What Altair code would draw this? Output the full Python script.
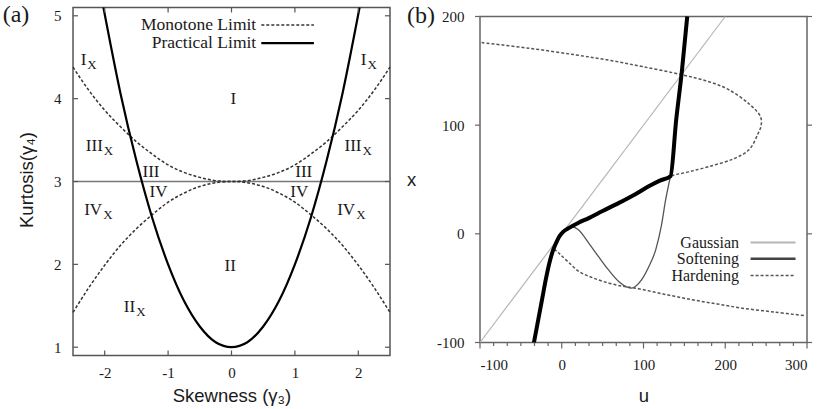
import altair as alt
import pandas as pd

# ---------------- (a) kurtosis vs. skewness regions ----------------
SKEW_DOMAIN = [-2.5, 2.5]
KURT_DOMAIN = [0.9, 5.1]
skew_ticks = [-2, -1, 0, 1, 2]
kurt_ticks = [1, 2, 3, 4, 5]

practical_skew = [-2.02, -1.75, -1.5, -1.25, -1.0, -0.75, -0.5, -0.25, 0.0,
                  0.25, 0.5, 0.75, 1.0, 1.25, 1.5, 1.75, 2.02]
practical_kurt = [5.1, 4.06, 3.25, 2.56, 2.0, 1.56, 1.25, 1.06, 1.0,
                  1.06, 1.25, 1.56, 2.0, 2.56, 3.25, 4.06, 5.1]

monotone_skew = [-2.5, -2.25, -2.0, -1.75, -1.5, -1.25, -1.0, -0.75, -0.5, -0.25, 0.0,
                 0.25, 0.5, 0.75, 1.0, 1.25, 1.5, 1.75, 2.0, 2.25, 2.5]
monotone_upper = [4.38, 4.1, 3.86, 3.66, 3.48, 3.33, 3.2, 3.11, 3.05, 3.01, 3.0,
                  3.01, 3.05, 3.11, 3.2, 3.33, 3.48, 3.66, 3.86, 4.1, 4.38]
monotone_lower = [1.42, 1.72, 1.99, 2.23, 2.43, 2.6, 2.75, 2.86, 2.94, 2.985, 3.0,
                  2.985, 2.94, 2.86, 2.75, 2.6, 2.43, 2.23, 1.99, 1.72, 1.42]

gaussian_kurt = [3.0]

# region names carrying an "X" subscript (anchored at the join of name and subscript)
sub_name = ["I", "I", "III", "III", "IV", "IV", "II"]
sub_skew = [-2.29, 2.13, -2.03, 2.05, -2.04, 1.95, -1.52]
sub_kurt = [4.47, 4.47, 3.43, 3.43, 2.66, 2.66, 1.48]
# plain region names (centred)
plain_name = ["I", "III", "III", "IV", "IV", "II"]
plain_skew = [0.03, -1.27, 1.14, -1.15, 1.07, -0.02]
plain_kurt = [3.99, 3.12, 3.12, 2.87, 2.87, 1.98]

legend_a_names = ["Monotone Limit", "Practical Limit"]

# ---------------- (b) transformation curves x(u) ----------------
U_DOMAIN = [-100, 300]
X_DOMAIN = [-100, 200]
u_ticks = [-100, 0, 100, 200, 300]
x_ticks = [-100, 0, 100, 200]

gauss_u = [-100, 200]
gauss_x = [-100, 200]

soft_mono_u = [-34, -28.5, -23.5, -19.5, -15.5, -11.5, -7, -3, 2, 9, 20, 33, 50, 70, 90,
               107, 120, 133, 140, 147, 153.5]
soft_mono_x = [-100, -78, -58, -42, -28, -17, -8.5, -2.5, 2, 5.5, 10, 14.5, 21, 28.5, 36.5,
               44, 49, 53, 105, 150, 200]

soft_cubic_u = [-3, 2, 8, 13, 20, 33, 45, 57, 70, 80, 85, 90, 98, 106, 115, 122, 127, 133]
soft_cubic_x = [-2.5, 2, 5.5, 6.5, 4, -8.5, -21, -33, -44, -49, -50, -48.5, -42, -31,
                -14.5, 8, 31, 53]

hard_u = [-98, -40, 17, 60, 98.5, 147.5, 180, 204.6, 230, 243, 244, 240, 229, 210, 180,
          155, 131.2, 107, 90, 70, 50, 33, 20, 9, 2, -3, -7, -9.5, -3.4, 8, 21.1, 38, 57.8,
          75, 90.4, 125, 159.7, 190, 220.9, 260, 298.4]
hard_x = [176, 170.8, 164.7, 159.5, 153.9, 146.3, 140, 132.5, 119, 108, 100, 92, 77.3, 69,
          61.9, 57, 52.7, 44, 36.5, 28.5, 21, 14.5, 10, 5.5, 2, -2.5, -8.5, -13.2, -17.8,
          -26, -34.7, -40.5, -45.4, -48.3, -50, -55.5, -60.7, -64.5, -68.4, -72, -75.4]

legend_b_names = ["Gaussian", "Softening", "Hardening"]

# ---------------- styling / layout ----------------
SERIF = "Liberation Serif"
SANS = "Liberation Sans"
INK = "#1a1a1a"
H = 348            # common plot height (both panels)
W_A = 317
W_B = 327
B_FRAME_PX = [335, 9]   # pixel rows of x=-100 and x=200 in panel (b)
TICK = 5
TICK_FONT = 15
TITLE_FONT = 18.5


def path_df(xs, ys, xname, yname):
    return pd.DataFrame({xname: xs, yname: ys, "i": list(range(len(xs)))})


# ======================= panel (a) =======================
sx_a = alt.Scale(domain=SKEW_DOMAIN, nice=False, zero=False)
sy_a = alt.Scale(domain=KURT_DOMAIN, nice=False, zero=False)

x_axis_a = alt.Axis(values=skew_ticks, title="Skewness (γ₃)", grid=False, domain=False,
                    ticks=False, tickSize=0, labelFont=SERIF, labelFontSize=TICK_FONT,
                    labelColor=INK, labelPadding=17, labelBaseline="middle",
                    labelExpr="datum.value", titleFont=SANS, titleFontSize=TITLE_FONT,
                    titleFontWeight="normal", titleColor=INK, titleX=W_A / 2, titleY=40,
                    titleBaseline="middle", titleAlign="center")
y_axis_a = alt.Axis(values=kurt_ticks, title="Kurtosis(γ₄)", grid=False, domain=False,
                    ticks=False, tickSize=0, labelFont=SERIF, labelFontSize=TICK_FONT,
                    labelColor=INK, labelPadding=12, labelBaseline="middle",
                    labelExpr="datum.value", titleFont=SANS, titleFontSize=TITLE_FONT,
                    titleFontWeight="normal", titleColor=INK, titleX=-47, titleY=172,
                    titleAngle=-90, titleBaseline="middle", titleAlign="center")

frame_a = alt.Chart(pd.DataFrame({"sx": [SKEW_DOMAIN[0]], "sx2": [SKEW_DOMAIN[1]],
                                  "ky": [KURT_DOMAIN[0]], "ky2": [KURT_DOMAIN[1]]})).mark_rect(
    fillOpacity=0, stroke="#555", strokeWidth=1.5
).encode(
    x=alt.X("sx:Q", scale=sx_a, axis=x_axis_a),
    x2="sx2:Q",
    y=alt.Y("ky:Q", scale=sy_a, axis=y_axis_a),
    y2="ky2:Q",
)

gauss_a = alt.Chart(pd.DataFrame({"sx": [SKEW_DOMAIN[0]], "sx2": [SKEW_DOMAIN[1]],
                                  "ky": gaussian_kurt})).mark_rule(
    color="#777", strokeWidth=1.4
).encode(x=alt.X("sx:Q", scale=sx_a), x2="sx2:Q", y=alt.Y("ky:Q", scale=sy_a))

mono_up = alt.Chart(path_df(monotone_skew, monotone_upper, "sx", "ky")).mark_line(
    color="#333", strokeWidth=1.5, strokeDash=[3, 2], interpolate="monotone"
).encode(x=alt.X("sx:Q", scale=sx_a), y=alt.Y("ky:Q", scale=sy_a), order="i:Q")
mono_lo = alt.Chart(path_df(monotone_skew, monotone_lower, "sx", "ky")).mark_line(
    color="#333", strokeWidth=1.5, strokeDash=[3, 2], interpolate="monotone"
).encode(x=alt.X("sx:Q", scale=sx_a), y=alt.Y("ky:Q", scale=sy_a), order="i:Q")
practical = alt.Chart(path_df(practical_skew, practical_kurt, "sx", "ky")).mark_line(
    color="#000", strokeWidth=2.2, interpolate="monotone"
).encode(x=alt.X("sx:Q", scale=sx_a), y=alt.Y("ky:Q", scale=sy_a), order="i:Q")

sub_df = pd.DataFrame({"sx": sub_skew, "ky": sub_kurt, "name": sub_name})
sub_main = alt.Chart(sub_df).mark_text(font=SERIF, fontSize=17, color=INK, align="right",
                                        baseline="middle").encode(
    x=alt.X("sx:Q", scale=sx_a), y=alt.Y("ky:Q", scale=sy_a), text="name:N")
sub_x = alt.Chart(sub_df).mark_text(font=SERIF, fontSize=13, color=INK, align="left",
                                     baseline="middle", dx=1, dy=5, text="X").encode(
    x=alt.X("sx:Q", scale=sx_a), y=alt.Y("ky:Q", scale=sy_a))
plain = alt.Chart(pd.DataFrame({"sx": plain_skew, "ky": plain_kurt, "name": plain_name})).mark_text(
    font=SERIF, fontSize=17, color=INK, align="center", baseline="middle"
).encode(x=alt.X("sx:Q", scale=sx_a), y=alt.Y("ky:Q", scale=sy_a), text="name:N")

# key of panel (a): label on the left, line sample on the right
leg_a = pd.DataFrame({"name": legend_a_names, "ky": [4.89, 4.67],
                      "sx": [0.39, 0.39], "s0": [0.47, 0.47], "s1": [1.30, 1.30]})
leg_a_text = alt.Chart(leg_a).mark_text(font=SERIF, fontSize=17.5, color=INK, align="right",
                                         baseline="middle").encode(
    x=alt.X("sx:Q", scale=sx_a), y=alt.Y("ky:Q", scale=sy_a), text="name:N")
leg_a_dash = alt.Chart(leg_a.iloc[[0]]).mark_rule(color="#333", strokeWidth=1.5,
                                                  strokeDash=[3, 2]).encode(
    x=alt.X("s0:Q", scale=sx_a), x2="s1:Q", y=alt.Y("ky:Q", scale=sy_a))
leg_a_solid = alt.Chart(leg_a.iloc[[1]]).mark_rule(color="#000", strokeWidth=2.4).encode(
    x=alt.X("s0:Q", scale=sx_a), x2="s1:Q", y=alt.Y("ky:Q", scale=sy_a))

# inward ticks on all four sides
tx_a = pd.DataFrame({"sx": skew_ticks})
ty_a = pd.DataFrame({"ky": kurt_ticks})
tick_a = dict(color="#555", strokeWidth=1.2)
ticks_a = [
    alt.Chart(tx_a).mark_rule(**tick_a).encode(x=alt.X("sx:Q", scale=sx_a),
                                               y=alt.value(H), y2=alt.value(H - TICK)),
    alt.Chart(tx_a).mark_rule(**tick_a).encode(x=alt.X("sx:Q", scale=sx_a),
                                               y=alt.value(0), y2=alt.value(TICK)),
    alt.Chart(ty_a).mark_rule(**tick_a).encode(y=alt.Y("ky:Q", scale=sy_a),
                                               x=alt.value(0), x2=alt.value(TICK)),
    alt.Chart(ty_a).mark_rule(**tick_a).encode(y=alt.Y("ky:Q", scale=sy_a),
                                               x=alt.value(W_A), x2=alt.value(W_A - TICK)),
]

tag_a = alt.Chart(pd.DataFrame({"t": ["(a)"]})).mark_text(
    font=SERIF, fontSize=24, color=INK, align="center", baseline="middle"
).encode(text="t:N", x=alt.value(-57), y=alt.value(7))

panel_a = alt.layer(frame_a, gauss_a, mono_up, mono_lo, practical, sub_main, sub_x, plain,
                    leg_a_text, leg_a_dash, leg_a_solid, *ticks_a, tag_a).properties(
    width=W_A, height=H)

# ======================= panel (b) =======================
sx_b = alt.Scale(domain=U_DOMAIN, nice=False, zero=False)
sy_b = alt.Scale(domain=X_DOMAIN, range=B_FRAME_PX, nice=False, zero=False)

x_axis_b = alt.Axis(values=u_ticks, title="u", grid=False, domain=False, ticks=False,
                    tickSize=0, labelFont=SERIF, labelFontSize=TICK_FONT, labelColor=INK,
                    labelPadding=9, labelBaseline="middle", labelExpr="datum.value",
                    titleFont=SANS, titleFontSize=TITLE_FONT, titleFontWeight="normal",
                    titleColor=INK, titleX=W_B / 2, titleY=40, titleBaseline="middle",
                    titleAlign="center")
y_axis_b = alt.Axis(values=x_ticks, title="x", grid=False, domain=False, ticks=False,
                    tickSize=0, labelFont=SERIF, labelFontSize=TICK_FONT, labelColor=INK,
                    labelPadding=16, labelBaseline="middle", labelExpr="datum.value",
                    titleFont=SANS, titleFontSize=TITLE_FONT, titleFontWeight="normal",
                    titleColor=INK, titleX=-69, titleY=172, titleAngle=0,
                    titleBaseline="middle", titleAlign="center")

frame_b = alt.Chart(pd.DataFrame({"uu": [U_DOMAIN[0]], "uu2": [U_DOMAIN[1]],
                                  "xx": [X_DOMAIN[0]], "xx2": [X_DOMAIN[1]]})).mark_rect(
    fillOpacity=0, stroke="#666", strokeWidth=1.5
).encode(
    x=alt.X("uu:Q", scale=sx_b, axis=x_axis_b),
    x2="uu2:Q",
    y=alt.Y("xx:Q", scale=sy_b, axis=y_axis_b),
    y2="xx2:Q",
)


def curve_b(us, xs, interp, **mark):
    return alt.Chart(path_df(us, xs, "uu", "xx")).mark_line(
        interpolate=interp, **mark
    ).encode(x=alt.X("uu:Q", scale=sx_b), y=alt.Y("xx:Q", scale=sy_b), order="i:Q")


gauss_b = curve_b(gauss_u, gauss_x, "linear", color="#b5b5b5", strokeWidth=1.2)
hard_b = curve_b(hard_u, hard_x, "catmull-rom", color="#555", strokeWidth=1.5,
                 strokeDash=[3, 2])
cubic_b = curve_b(soft_cubic_u, soft_cubic_x, "monotone", color="#555", strokeWidth=1.3)
mono_b = curve_b(soft_mono_u, soft_mono_x, "monotone", color="#000", strokeWidth=4)

leg_b = pd.DataFrame({"name": legend_b_names, "xx": [-8, -23, -38.4],
                      "uu": [216.8] * 3, "s0": [231] * 3, "s1": [286] * 3})
leg_b_text = alt.Chart(leg_b).mark_text(font=SERIF, fontSize=16, color=INK, align="right",
                                         baseline="middle").encode(
    x=alt.X("uu:Q", scale=sx_b), y=alt.Y("xx:Q", scale=sy_b), text="name:N")
leg_b_g = alt.Chart(leg_b.iloc[[0]]).mark_rule(color="#b5b5b5", strokeWidth=2).encode(
    x=alt.X("s0:Q", scale=sx_b), x2="s1:Q", y=alt.Y("xx:Q", scale=sy_b))
leg_b_s = alt.Chart(leg_b.iloc[[1]]).mark_rule(color="#444", strokeWidth=2.5).encode(
    x=alt.X("s0:Q", scale=sx_b), x2="s1:Q", y=alt.Y("xx:Q", scale=sy_b))
leg_b_h = alt.Chart(leg_b.iloc[[2]]).mark_rule(color="#555", strokeWidth=1.5,
                                               strokeDash=[3, 2]).encode(
    x=alt.X("s0:Q", scale=sx_b), x2="s1:Q", y=alt.Y("xx:Q", scale=sy_b))

# outward ticks: majors on bottom/left/right, minors along u
u_minor = [round(-100 + k * 100 / 6, 2) for k in range(25) if k % 6]
tick_b = dict(color="#666", strokeWidth=1.2)
ticks_b = [
    alt.Chart(pd.DataFrame({"uu": u_ticks})).mark_rule(**tick_b).encode(
        x=alt.X("uu:Q", scale=sx_b), y=alt.value(B_FRAME_PX[0]),
        y2=alt.value(B_FRAME_PX[0] + TICK + 1)),
    alt.Chart(pd.DataFrame({"uu": u_minor})).mark_rule(**tick_b).encode(
        x=alt.X("uu:Q", scale=sx_b), y=alt.value(B_FRAME_PX[0]),
        y2=alt.value(B_FRAME_PX[0] + 3.5)),
    alt.Chart(pd.DataFrame({"xx": x_ticks})).mark_rule(**tick_b).encode(
        y=alt.Y("xx:Q", scale=sy_b), x=alt.value(0), x2=alt.value(-TICK)),
    alt.Chart(pd.DataFrame({"xx": x_ticks})).mark_rule(**tick_b).encode(
        y=alt.Y("xx:Q", scale=sy_b), x=alt.value(W_B), x2=alt.value(W_B + TICK)),
]

tag_b = alt.Chart(pd.DataFrame({"t": ["(b)"]})).mark_text(
    font=SERIF, fontSize=24, color=INK, align="center", baseline="middle"
).encode(text="t:N", x=alt.value(-59), y=alt.value(8))

panel_b = alt.layer(frame_b, gauss_b, hard_b, cubic_b, mono_b, leg_b_text, leg_b_g,
                    leg_b_s, leg_b_h, *ticks_b, tag_b).properties(width=W_B, height=H)

chart = alt.hconcat(panel_a, panel_b, spacing=11).properties(
    padding={"left": 2, "top": 1.5, "right": 2, "bottom": 0},
    background="white",
).configure_view(stroke="transparent")

chart.save("out.html", embed_options={"renderer": "svg", "actions": False})
